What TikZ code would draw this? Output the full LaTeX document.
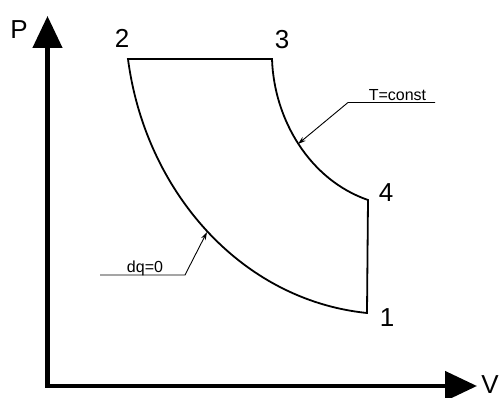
\documentclass[tikz,border=0pt]{standalone}
\usepackage{fontspec}
\setmainfont{Liberation Sans}
\usetikzlibrary{arrows.meta,positioning,calc}

\begin{document}
\begin{tikzpicture}[
  x=1pt, y=-1pt,
  axis/.style={line width=4.5pt, {Triangle[length=32pt,width=29pt]}-{Triangle[length=32pt,width=29pt]}},
  cycle/.style={line width=1.8pt, line join=miter},
  leader/.style={line width=0.9pt, -{Stealth[length=8pt,width=5pt]}},
  pt/.style={font=\fontsize{26}{30}\selectfont, inner sep=0pt},
  note/.style={font=\fontsize{16}{19}\selectfont, inner sep=0pt, anchor=base},
]
\useasboundingbox (0,0) rectangle (499,398);
% axes
\coordinate (O) at (47.5,386);
\coordinate (Pend) at (47.5,16);
\coordinate (Vend) at (477,386);
\draw[axis] (Vend) -- (O) -- (Pend);
\node[pt] (P) at (19,30) {P};
\node[pt] (V) at (490,385) {V};
% cycle corners
\coordinate (p1) at (367,313);
\coordinate (p2) at (128,59);
\coordinate (p3) at (272,59);
\coordinate (p4) at (368,200);
\draw[cycle] (p1) -- (p4) .. controls (310,180) and (274,120) .. (p3)
  -- (p2) .. controls (145,190) and (240,300) .. cycle;
\node[pt] (n1) at (387,318) {1};
\node[pt] (n2) at (122,38) {2};
\node[pt] (n3) at (282,40) {3};
\node[pt] (n4) at (386,193) {4};
% leaders
\coordinate (tA) at (298,144);
\coordinate (kA) at (348,102.5);
\coordinate (eA) at (435,102.5);
\draw[leader] (eA) -- (kA) -- (tA);
\node[note] (Tc) at (397.5,101) {T=const};
\coordinate (tB) at (207,232);
\coordinate (kB) at (185,275);
\coordinate (eB) at (100,275);
\draw[leader] (eB) -- (kB) -- (tB);
\node[note] (dq) at (145,273) {dq=0};
\end{tikzpicture}
\end{document}
